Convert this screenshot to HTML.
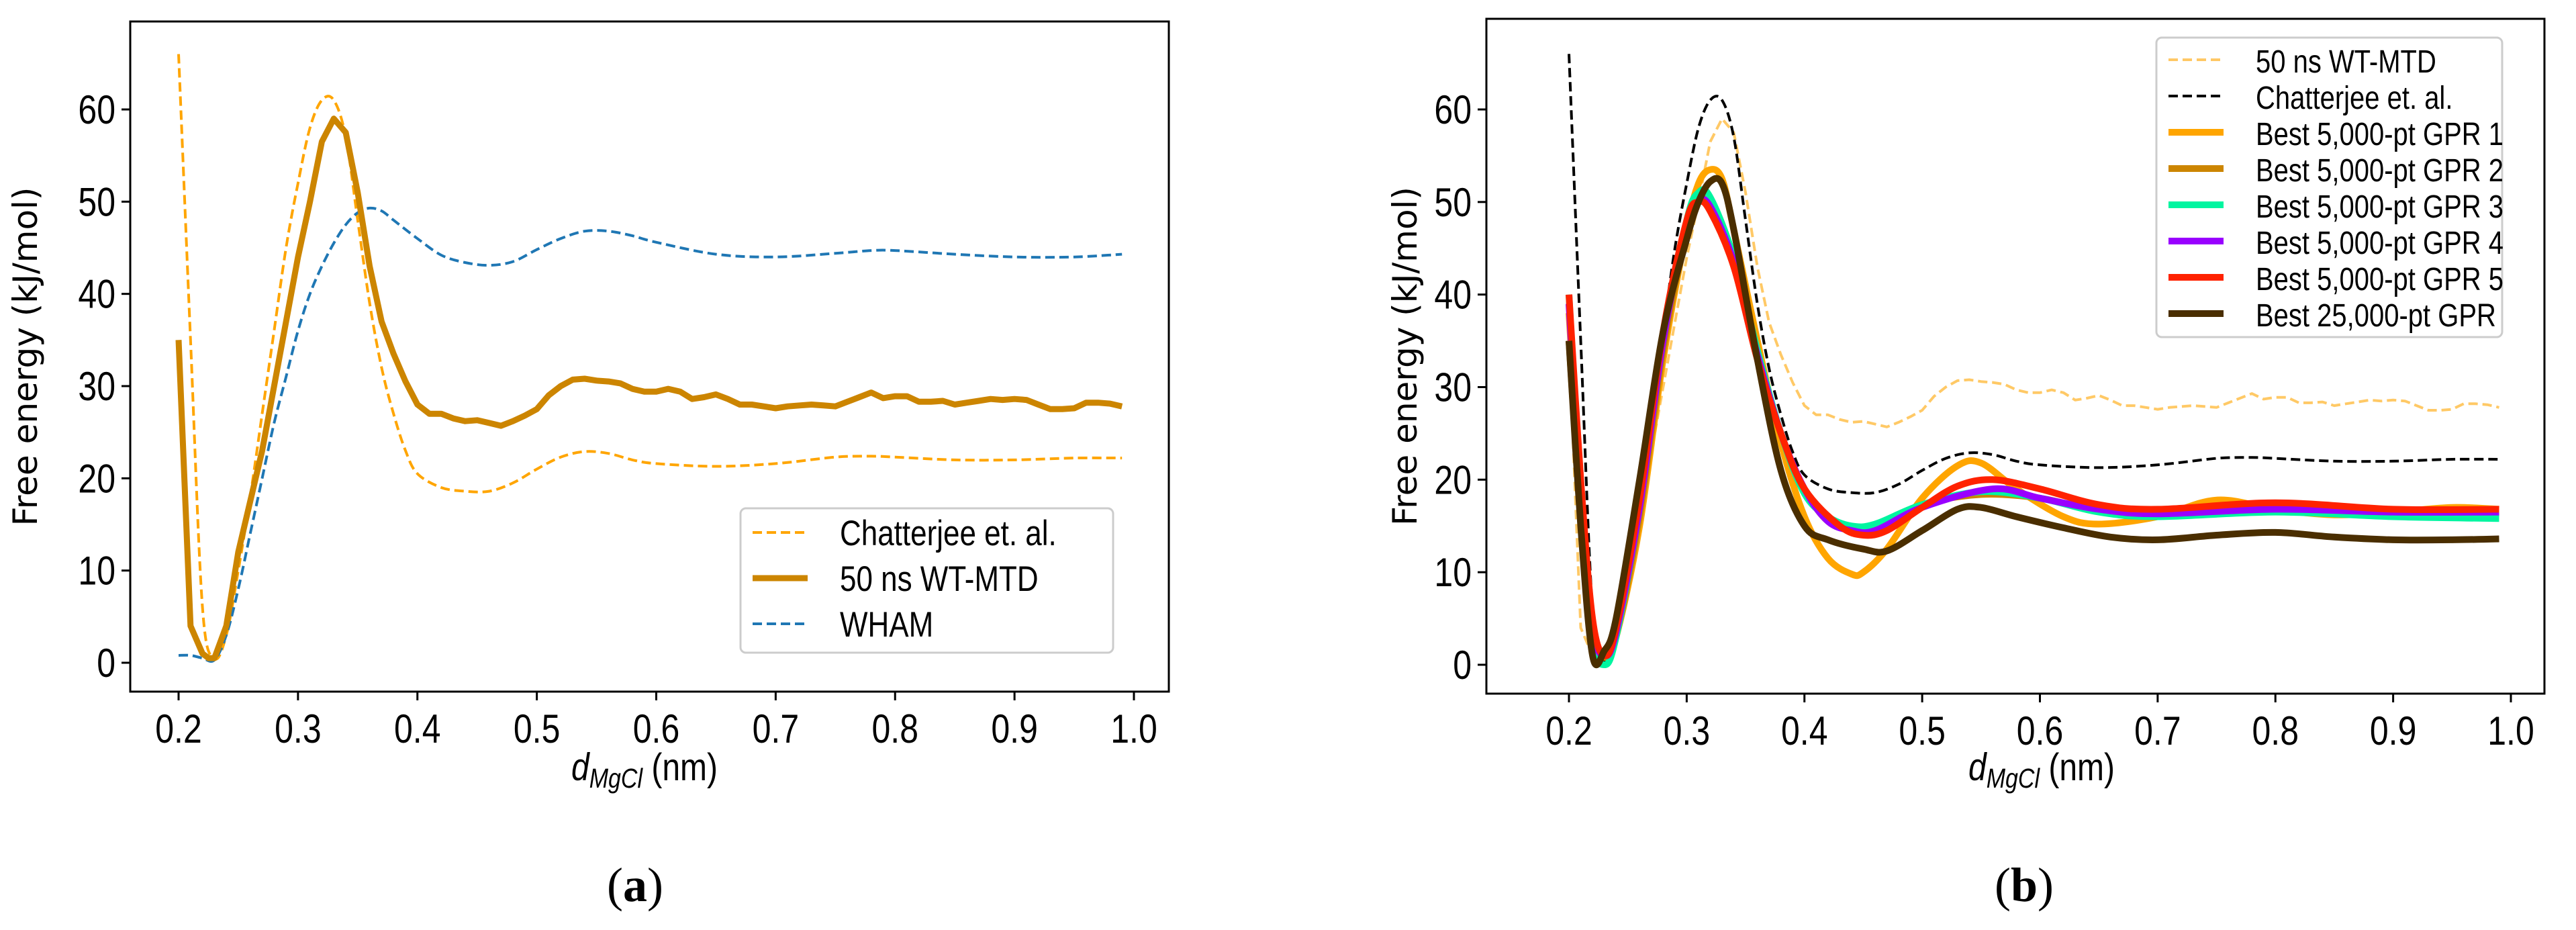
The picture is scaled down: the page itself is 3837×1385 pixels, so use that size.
<!DOCTYPE html>
<html><head><meta charset="utf-8"><style>
html,body{margin:0;padding:0;background:#fff;}
svg{display:block;}
text{font-family:"Liberation Sans",sans-serif;fill:#000;}
</style></head><body>
<svg id="fig" width="3837" height="1385" viewBox="0 0 3837 1385" xmlns="http://www.w3.org/2000/svg"></svg>
<script>
// ---------- data ----------
const chatX = [0.2,0.21,0.22,0.23,0.24,0.25,0.26,0.27,0.28,0.29,0.30,0.31,0.32,0.33,0.34,0.35,0.36,0.37,0.38,0.39,0.40,0.42,0.44,0.46,0.48,0.50,0.52,0.54,0.56,0.58,0.60,0.65,0.70,0.75,0.78,0.80,0.85,0.90,0.95,0.99];
const chatY = [66,35,6,0.5,3,10,18,27,36,45,52,58,61,61,57,48,39,32,27,23,20.5,19,18.6,18.6,19.5,21,22.3,22.9,22.7,22,21.6,21.3,21.6,22.3,22.4,22.3,22,22,22.2,22.2];
const whamX = [0.2,0.21,0.22,0.23,0.24,0.25,0.26,0.27,0.28,0.29,0.30,0.31,0.32,0.33,0.34,0.35,0.36,0.37,0.38,0.40,0.42,0.44,0.46,0.48,0.50,0.52,0.54,0.56,0.58,0.60,0.65,0.70,0.75,0.78,0.80,0.85,0.90,0.95,0.99];
const whamY = [0.8,0.8,0.5,0.3,3,8,14,20,26,31,36,40,43,45.5,47.5,48.8,49.3,49,48,46,44.2,43.4,43.1,43.5,44.8,46,46.8,46.8,46.3,45.6,44.3,44,44.4,44.7,44.7,44.3,44,44,44.3];
const mtdX = [0.2,0.21,0.22,0.225,0.23,0.24,0.25,0.27,0.29,0.30,0.31,0.32,0.33,0.34,0.35,0.36,0.37,0.38,0.39,0.40,0.41,0.42,0.43,0.44,0.45,0.46,0.47,0.48,0.49,0.50,0.51,0.52,0.53,0.54,0.55,0.56,0.57,0.58,0.59,0.60,0.61,0.62,0.63,0.64,0.65,0.66,0.67,0.68,0.69,0.70,0.71,0.72,0.73,0.74,0.75,0.76,0.77,0.78,0.79,0.80,0.81,0.82,0.83,0.84,0.85,0.86,0.87,0.88,0.89,0.90,0.91,0.92,0.93,0.94,0.95,0.96,0.97,0.98,0.99];
const mtdY = [35,4,1,0.5,0.5,4,12,23,37,44,50,56.5,59,57.5,51,43,37,33.5,30.5,28,27,27,26.5,26.2,26.3,26,25.7,26.2,26.8,27.5,29,30,30.7,30.8,30.6,30.5,30.3,29.7,29.4,29.4,29.7,29.4,28.6,28.8,29.1,28.6,28,28,27.8,27.6,27.8,27.9,28,27.9,27.8,28.3,28.8,29.3,28.7,28.9,28.9,28.3,28.3,28.4,28.0,28.2,28.4,28.6,28.5,28.6,28.5,28,27.5,27.5,27.6,28.2,28.2,28.1,27.8];
const gpr1X = [0.2,0.21,0.22,0.23,0.24,0.26,0.28,0.30,0.31,0.32,0.33,0.34,0.36,0.38,0.40,0.42,0.44,0.45,0.47,0.50,0.53,0.55,0.58,0.62,0.65,0.70,0.75,0.80,0.85,0.90,0.95,0.99];
const gpr1Y = [38,18,4,1,3,15,33,47,52,53.5,52.5,47,35,24,16,11.5,9.8,10,12.5,18,21.5,21.8,19,16,15.2,16,17.8,16.8,16.2,16.5,17,16.8];
const gpr2X = [0.2,0.21,0.22,0.23,0.24,0.26,0.28,0.30,0.31,0.32,0.34,0.36,0.38,0.40,0.42,0.44,0.46,0.50,0.55,0.60,0.65,0.70,0.80,0.90,0.99];
const gpr2Y = [35,16,3,0.8,3,16,34,47,50.5,50,44,34,25,19,15.5,14.6,14.8,17.3,18.4,18,16.6,16.2,16.8,16.5,16.4];
const gpr3X = [0.2,0.21,0.22,0.23,0.24,0.26,0.28,0.30,0.31,0.32,0.34,0.36,0.38,0.40,0.42,0.44,0.46,0.50,0.55,0.60,0.65,0.70,0.80,0.90,0.99];
const gpr3Y = [40,18,3,0,3,17,35,48,51,50.5,44,34,25,18.5,16,15,15.2,17.3,18.7,18,16.5,16,16.5,16,15.8];
const gpr4X = [0.2,0.21,0.22,0.23,0.24,0.26,0.28,0.30,0.31,0.32,0.34,0.36,0.38,0.40,0.42,0.44,0.46,0.50,0.56,0.60,0.65,0.70,0.80,0.90,0.99];
const gpr4Y = [39,18,4,1,3.5,17,35,47.5,50,49.5,43.5,33.5,25,19,15.5,14.5,14.5,17,19,18,16.8,16.3,16.8,16.5,16.5];
const gpr5X = [0.2,0.21,0.22,0.23,0.24,0.26,0.28,0.30,0.31,0.32,0.34,0.36,0.38,0.40,0.43,0.45,0.47,0.50,0.53,0.56,0.60,0.65,0.70,0.80,0.90,0.99];
const gpr5Y = [40,20,5,1,4,18,36,48,50,49,43,33,25,19,15,14,14.5,17,19.3,20,19,17.3,16.8,17.5,16.8,16.8];
const gpr25X = [0.2,0.21,0.22,0.23,0.24,0.26,0.28,0.30,0.31,0.32,0.33,0.34,0.36,0.38,0.40,0.42,0.45,0.47,0.50,0.53,0.55,0.58,0.62,0.66,0.70,0.75,0.80,0.85,0.90,0.95,0.99];
const gpr25Y = [35,15,1,1.5,5,20,36,46,50,52.2,52,47,33,21,15,13.5,12.5,12.3,14.5,16.8,17,16,14.8,13.8,13.5,14,14.3,13.8,13.5,13.5,13.6];
const xTicks = [0.2,0.3,0.4,0.5,0.6,0.7,0.8,0.9,1.0];
const xTickLabels = ["0.2","0.3","0.4","0.5","0.6","0.7","0.8","0.9","1.0"];
const yTicks = [0,10,20,30,40,50,60];
const yTickLabels = ["0","10","20","30","40","50","60"];
const legendA = ["Chatterjee et. al.","50 ns WT-MTD","WHAM"];
const legendB = ["50 ns WT-MTD","Chatterjee et. al.","Best 5,000-pt GPR 1","Best 5,000-pt GPR 2","Best 5,000-pt GPR 3","Best 5,000-pt GPR 4","Best 5,000-pt GPR 5","Best 25,000-pt GPR"];

const NS = "http://www.w3.org/2000/svg";
const fig = document.getElementById('fig');
function mk(tag, attrs, parent){ const e=document.createElementNS(NS,tag); for(const k in attrs) e.setAttribute(k,attrs[k]); (parent||fig).appendChild(e); return e; }

function smoothPath(pts){
  let d = "M"+pts[0][0].toFixed(1)+","+pts[0][1].toFixed(1);
  for(let i=0;i<pts.length-1;i++){
    const p0=pts[Math.max(0,i-1)], p1=pts[i], p2=pts[i+1], p3=pts[Math.min(pts.length-1,i+2)];
    const c1=[p1[0]+(p2[0]-p0[0])/6, p1[1]+(p2[1]-p0[1])/6];
    const c2=[p2[0]-(p3[0]-p1[0])/6, p2[1]-(p3[1]-p1[1])/6];
    d+=" C"+c1[0].toFixed(1)+","+c1[1].toFixed(1)+" "+c2[0].toFixed(1)+","+c2[1].toFixed(1)+" "+p2[0].toFixed(1)+","+p2[1].toFixed(1);
  }
  return d;
}
function linePath(pts){ return pts.map((p,i)=>(i?"L":"M")+p[0].toFixed(1)+","+p[1].toFixed(1)).join(" "); }

function axes(cfg){
  const g = mk('g',{});
  
  
  const sx = v => cfg.x0 + (v-0.2)/(0.8)*(cfg.x1-cfg.x0);
  const sy = v => cfg.y0 - v/60*(cfg.y0-cfg.y60);
  xTicks.forEach((t,i)=>{
    const x=sx(t);
    const tk=mk('line',{x1:x,x2:x,y1:cfg.bottom,y2:cfg.bottom+13,stroke:'#000','stroke-width':3},g);
    
    
    const tl=mk('text',{x:0,y:0,'font-size':50,'text-anchor':'middle',transform:`translate(${x},${cfg.bottom+76}) scale(1,1.2)`},g);
    tl.textContent=xTickLabels[i];
    
    
  });
  yTicks.forEach((t,i)=>{
    const y=sy(t);
    const tk=mk('line',{x1:cfg.left-13,x2:cfg.left,y1:y,y2:y,stroke:'#000','stroke-width':3},g);
    
    
    const tl=mk('text',{x:0,y:0,'font-size':50,'text-anchor':'end',transform:`translate(${cfg.left-22},${y+21}) scale(1,1.2)`},g);
    tl.textContent=yTickLabels[i];
    
    
  });
  const clip = mk('g',{},g);
  cfg.series.forEach(s=>{
    const pts = s.x.map((v,i)=>[sx(v), sy(s.y[i])]);
    const p = mk('path',{d: s.smooth?smoothPath(pts):linePath(pts), fill:'none', stroke:s.color,'stroke-width':s.w,'stroke-dasharray':s.dash||'none','stroke-linejoin':'round',opacity:s.op||1},clip);
    
    
  });
  const fr=mk('rect',{x:cfg.left,y:cfg.top,width:cfg.right-cfg.left,height:cfg.bottom-cfg.top,fill:'none',stroke:'#000','stroke-width':3},g);
  
  
  const yl=mk('text',{x:0,y:0,'font-size':50,'text-anchor':'middle',transform:`translate(${cfg.ylx},${(cfg.top+cfg.bottom)/2}) rotate(-90)`,style:'font-family:"DejaVu Sans",sans-serif'},g);
  yl.textContent='Free energy (kJ/mol)';
  
  
  const xl=mk('text',{x:0,y:0,'font-size':48,'text-anchor':'middle',transform:`translate(${cfg.xlx},1162) scale(1,1.2)`},g);
  xl.innerHTML='<tspan font-style="italic">d</tspan><tspan font-style="italic" font-size="34" dy="9">MgCl</tspan><tspan dy="-9"> (nm)</tspan>';
  
  
  const L=cfg.legend;
  const lg=mk('g',{},g);
  
  
  mk('rect',{x:L.x,y:L.y,width:L.w,height:L.h,rx:8,fill:'#fff','fill-opacity':0.85,stroke:'#ccc','stroke-width':3},lg);
  L.items.forEach((it,i)=>{
    const y=L.y0+i*L.dy;
    const e=mk('g',{},lg);
    
    
    mk('line',{x1:L.x+18,x2:L.x+100,y1:y,y2:y,stroke:it.color,'stroke-width':it.w,'stroke-dasharray':it.dash||'none',opacity:it.op||1},e);
    const t=mk('text',{x:0,y:0,'font-size':L.fs,transform:`translate(${L.x+148},${y+19}) scale(1,1.2)`},e);
    t.textContent=it.label;
  });
  const cap=mk('text',{x:cfg.capx,y:1342,'font-size':72,'text-anchor':'middle',style:'font-family:"Liberation Serif",serif'},g);
  cap.innerHTML='(<tspan font-weight="bold">'+cfg.cap+'</tspan>)';
  
  
}

const orange='#ffa500', gold='#cc8500', blue='#1f77b4';
axes({name:'panel-a', left:194, right:1741, top:32, bottom:1030, x0:266, x1:1689, y0:987, y60:163, ylx:55, xlx:960, capx:946, cap:'a',
  series:[
    {name:'chatterjee-line', x:chatX, y:chatY, color:orange, w:4, dash:'14 7', smooth:true},
    {name:'wham-line', x:whamX, y:whamY, color:blue, w:4, dash:'14 7', smooth:true},
    {name:'wt-mtd-line', x:mtdX, y:mtdY, color:gold, w:9, smooth:false}
  ],
  legend:{x:1103,y:757,w:555,h:215,y0:793,dy:68,fs:44,items:[
    {label:legendA[0],color:orange,w:4,dash:'14 7'},
    {label:legendA[1],color:gold,w:9},
    {label:legendA[2],color:blue,w:4,dash:'14 7'}]}
});
axes({name:'panel-b', left:2214, right:3790, top:28, bottom:1033, x0:2337, x1:3740, y0:990, y60:163, ylx:2110, xlx:3041, capx:3015, cap:'b',
  series:[
    {name:'wt-mtd-line', x:mtdX, y:mtdY, color:orange, w:4, dash:'14 7', op:0.6, smooth:false},
    {name:'chatterjee-line', x:chatX, y:chatY, color:'#000', w:4, dash:'14 7', smooth:true},
    {name:'gpr1-line', x:gpr1X, y:gpr1Y, color:'#ffa500', w:10, smooth:true},
    {name:'gpr2-line', x:gpr2X, y:gpr2Y, color:'#cc8500', w:10, smooth:true},
    {name:'gpr3-line', x:gpr3X, y:gpr3Y, color:'#00f5a0', w:10, smooth:true},
    {name:'gpr4-line', x:gpr4X, y:gpr4Y, color:'#9900ff', w:10, smooth:true},
    {name:'gpr5-line', x:gpr5X, y:gpr5Y, color:'#ff2200', w:10, smooth:true},
    {name:'gpr25k-line', x:gpr25X, y:gpr25Y, color:'#4a2e00', w:10, smooth:true}
  ],
  legend:{x:3212,y:56,w:515,h:446,y0:89,dy:54,fs:40,items:[
    {label:legendB[0],color:orange,w:4,dash:'14 7',op:0.6},
    {label:legendB[1],color:'#000',w:4,dash:'14 7'},
    {label:legendB[2],color:'#ffa500',w:10},
    {label:legendB[3],color:'#cc8500',w:10},
    {label:legendB[4],color:'#00f5a0',w:10},
    {label:legendB[5],color:'#9900ff',w:10},
    {label:legendB[6],color:'#ff2200',w:10},
    {label:legendB[7],color:'#4a2e00',w:10}]}
});
</script>
</body></html>
